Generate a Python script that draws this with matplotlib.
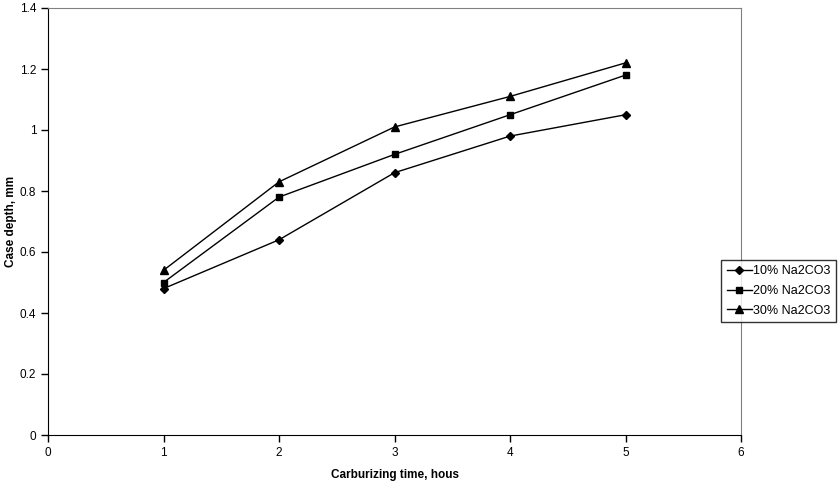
import matplotlib.pyplot as plt

plt.rcParams['font.family'] = ['Liberation Sans', 'DejaVu Sans']

# data
time_h = [1, 2, 3, 4, 5]
na10 = [0.48, 0.64, 0.86, 0.98, 1.05]
na20 = [0.50, 0.78, 0.92, 1.05, 1.18]
na30 = [0.54, 0.83, 1.01, 1.11, 1.22]
labels = ['10% Na2CO3', '20% Na2CO3', '30% Na2CO3']

W, H = 838, 488
fig = plt.figure(figsize=(W / 100, H / 100), dpi=100)
ax = fig.add_axes([48 / W, 1 - 435 / H, (741 - 48) / W, (435 - 8) / H])

ax.plot(time_h, na10, color='black', lw=1, marker='D', ms=4, label=labels[0])
ax.plot(time_h, na20, color='black', lw=1, marker='s', ms=5, label=labels[1])
ax.plot(time_h, na30, color='black', lw=1, marker='^', ms=6, label=labels[2])

ax.set_xlim(0, 6)
ax.set_ylim(0, 1.4)
ax.set_xticks(range(0, 7))
ax.set_yticks([0, 0.2, 0.4, 0.6, 0.8, 1.0, 1.2, 1.4])
ax.set_yticklabels(['0', '0.2', '0.4', '0.6', '0.8', '1', '1.2', '1.4'])
ax.tick_params(labelsize=8.5, direction='out', length=5, width=1)
ax.tick_params(axis='x', pad=4)

for s in ['top', 'right']:
    ax.spines[s].set_color('#808080')
for s in ['left', 'bottom']:
    ax.spines[s].set_color('black')

ax.set_xlabel('Carburizing time, hous', fontsize=8.5, fontweight='bold', labelpad=7)
ax.set_ylabel('Case depth, mm', fontsize=8.5, fontweight='bold', labelpad=2)

leg = ax.legend(loc='center left', bbox_to_anchor=(721 / W, 1 - 291 / H),
                bbox_transform=fig.transFigure, fontsize=9, frameon=True,
                fancybox=False, edgecolor='black', handlelength=2.0,
                borderpad=0.45, labelspacing=0.6, handletextpad=0.1,
                borderaxespad=0)
leg.get_frame().set_linewidth(1)
leg.set_zorder(5)

fig.savefig('out.png', dpi=100)
